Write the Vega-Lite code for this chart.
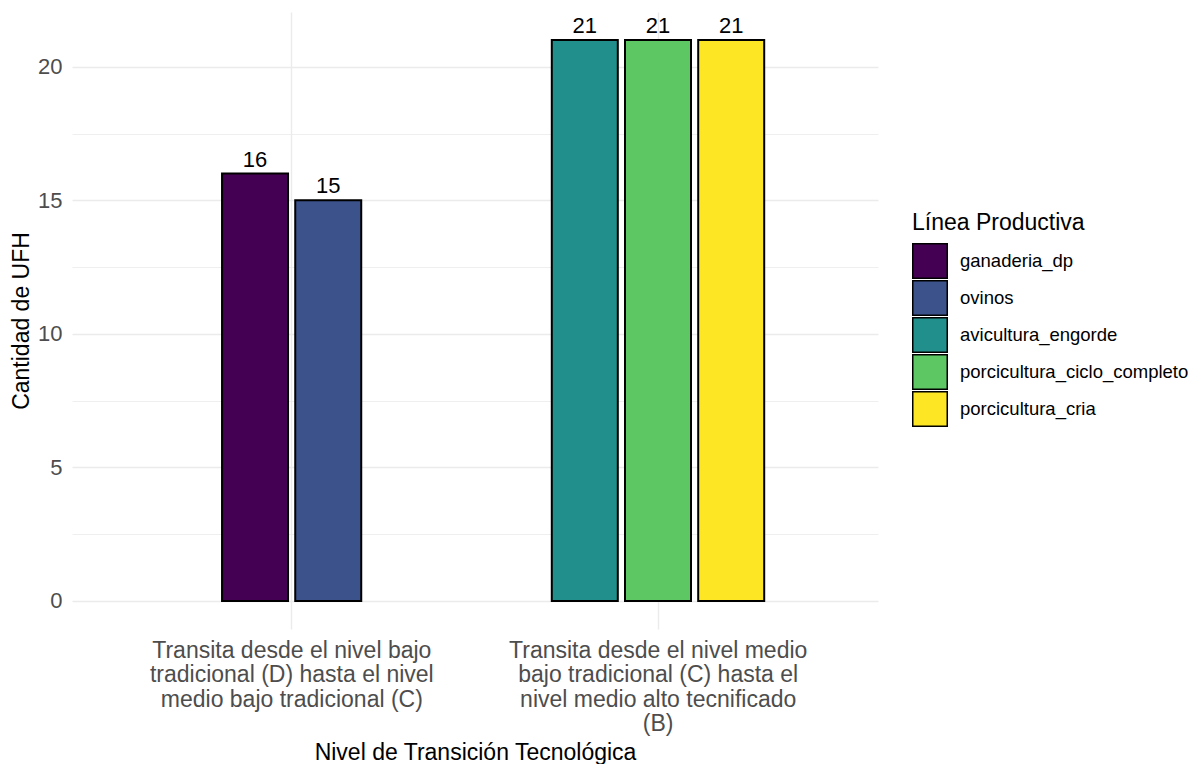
{
  "$schema": "https://vega.github.io/schema/vega-lite/v6.json",
  "width": 806,
  "height": 617,
  "autosize": {"type": "none"},
  "padding": {"left": 72, "top": 12, "right": 315, "bottom": 135},
  "background": "white",
  "config": {"view": {"stroke": null}, "font": "Liberation Sans"},
  "data": {
    "values": [
      {"nivel": "Transita desde el nivel bajo|tradicional (D) hasta el nivel|medio bajo tradicional (C)", "linea": "ganaderia_dp", "n": 16},
      {"nivel": "Transita desde el nivel bajo|tradicional (D) hasta el nivel|medio bajo tradicional (C)", "linea": "ovinos", "n": 15},
      {"nivel": "Transita desde el nivel medio|bajo tradicional (C) hasta el|nivel medio alto tecnificado|(B)", "linea": "avicultura_engorde", "n": 21},
      {"nivel": "Transita desde el nivel medio|bajo tradicional (C) hasta el|nivel medio alto tecnificado|(B)", "linea": "porcicultura_ciclo_completo", "n": 21},
      {"nivel": "Transita desde el nivel medio|bajo tradicional (C) hasta el|nivel medio alto tecnificado|(B)", "linea": "porcicultura_cria", "n": 21}
    ]
  },
  "encoding": {
    "x": {
      "field": "nivel",
      "type": "nominal",
      "sort": null,
      "title": "Nivel de Transición Tecnológica",
      "scale": {"paddingInner": 0, "paddingOuter": 0.1},
      "axis": {
        "labelExpr": "split(datum.label, '|')",
        "labelAngle": 0,
        "labelFontSize": 23,
        "labelColor": "#4D4D4D",
        "labelLineHeight": 24.5,
        "labelPadding": 10,
        "labelLimit": 500,
        "domain": false,
        "ticks": false,
        "grid": true,
        "gridColor": "#EBEBEB",
        "gridWidth": 1.4,
        "bandPosition": 0.5,
        "titleFontSize": 23,
        "titleFontWeight": "normal",
        "titleColor": "black",
        "titlePadding": 6
      }
    },
    "xOffset": {
      "field": "linea",
      "type": "nominal",
      "scale": {
        "domain": ["avicultura_engorde", "ganaderia_dp", "porcicultura_ciclo_completo", "ovinos", "porcicultura_cria"],
        "paddingInner": 0,
        "paddingOuter": 0,
        "range": [91.5, 274.5]
      }
    },
    "y": {
      "field": "n",
      "type": "quantitative",
      "title": "Cantidad de UFH",
      "scale": {"domain": [-1.05, 22.05], "nice": false, "zero": false},
      "axis": {
        "values": [0, 2.5, 5, 7.5, 10, 12.5, 15, 17.5, 20],
        "labelExpr": "datum.value % 5 === 0 ? format(datum.value, 'd') : ''",
        "gridColor": "#EBEBEB",
        "gridWidth": {"condition": {"test": "datum.value % 5 === 0", "value": 1.4}, "value": 0.8},
        "domain": false,
        "ticks": false,
        "labelFontSize": 22,
        "labelColor": "#4D4D4D",
        "labelPadding": 10,
        "titleFontSize": 23,
        "titleFontWeight": "normal",
        "titleColor": "black",
        "titlePadding": 4
      }
    }
  },
  "layer": [
    {
      "mark": {"type": "bar", "width": 66, "stroke": "black", "strokeWidth": 2},
      "encoding": {
        "y2": {"datum": 0},
        "fill": {
          "field": "linea",
          "type": "nominal",
          "title": "Línea Productiva",
          "scale": {
            "domain": ["ganaderia_dp", "ovinos", "avicultura_engorde", "porcicultura_ciclo_completo", "porcicultura_cria"],
            "range": ["#440154", "#3B528B", "#21908C", "#5DC863", "#FDE725"]
          },
          "legend": {
            "orient": "none",
            "legendX": 840,
            "legendY": 200,
            "symbolType": "square",
            "symbolSize": 1190,
            "symbolStrokeColor": "black",
            "symbolStrokeWidth": 1.5,
            "symbolOpacity": 1,
            "labelFontSize": 18.5,
            "labelColor": "black",
            "labelOffset": 12,
            "labelLimit": 400,
            "clipHeight": 36,
            "rowPadding": 1,
            "titleFontSize": 23,
            "titleFontWeight": "normal",
            "titleColor": "black",
            "titlePadding": 8
          }
        }
      }
    },
    {
      "mark": {"type": "text", "baseline": "alphabetic", "dy": -7, "fontSize": 22, "color": "black"},
      "encoding": {"text": {"field": "n", "type": "quantitative"}}
    }
  ]
}
